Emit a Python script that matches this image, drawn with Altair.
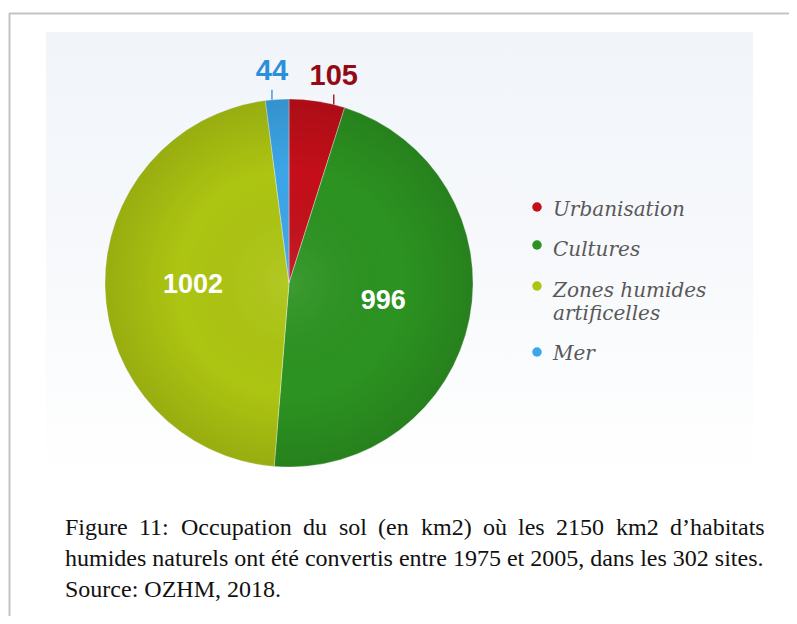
import altair as alt
import pandas as pd

# ---- data ----
categories = ["Urbanisation", "Cultures", "Zones humides artificelles", "Mer"]
values = [105, 996, 1002, 44]
legend_labels = ["Urbanisation", "Cultures", "Zones humides\nartificelles", "Mer"]

slice_colors = ["#c40f1a", "#2c9321", "#adc512", "#3ca6e8"]

caption_l1_words = ["Figure", "11:", "Occupation", "du", "sol", "(en", "km2)", "où",
                    "les", "2150", "km2", "d\u2019habitats"]
caption_l2 = "humides naturels ont été convertis entre 1975 et 2005, dans les 302 sites."
caption_l3 = "Source: OZHM, 2018."

# ---- layout (view pixels) ----
CX, CY, R = 281, 275, 184
caption_l1_x = [57, 131, 173, 295, 331, 370, 413, 475, 510, 548, 608, 662]
legend_text_y = [208, 248, 289, 352]
legend_dot_y = [199, 237, 278, 344]

df = pd.DataFrame({"cat": categories, "value": values, "idx": list(range(len(values)))})
leg = pd.DataFrame({"cat": categories, "label": legend_labels,
                    "ty": legend_text_y, "dy": legend_dot_y})
cap1 = pd.DataFrame({"word": caption_l1_words, "x": caption_l1_x})

color_scale = alt.Scale(domain=categories, range=slice_colors)
one = alt.Data(values=[{}])

# frame lines
frame_top = alt.Chart(one).mark_rule(color="#c4c4c4", strokeWidth=2).encode(
    x=alt.value(1), x2=alt.value(781), y=alt.value(5.5))
frame_left = alt.Chart(one).mark_rule(color="#c4c4c4", strokeWidth=2).encode(
    x=alt.value(1.5), y=alt.value(5), y2=alt.value(608))

# light panel behind the chart
panel = alt.Chart(one).mark_rect(
    fill=alt.LinearGradient(
        gradient="linear", x1=0, x2=0, y1=0, y2=1,
        stops=[alt.GradientStop(color="#f1f5fa", offset=0),
               alt.GradientStop(color="#f6f8fb", offset=0.45),
               alt.GradientStop(color="#ffffff", offset=1)])
).encode(x=alt.value(38), x2=alt.value(745), y=alt.value(24), y2=alt.value(472))

base = alt.Chart(df)

pie = base.mark_arc(radius=R, stroke="#ffffff", strokeWidth=0.7, strokeOpacity=0.5).encode(
    theta=alt.Theta("value:Q", stack=True),
    color=alt.Color("cat:N", scale=color_scale, legend=None),
    order=alt.Order("idx:Q"),
    x=alt.value(CX), y=alt.value(CY),
)

shade = alt.Chart(one).mark_arc(
    radius=R, theta=0, theta2=6.2832,
    fill=alt.RadialGradient(
        gradient="radial", x1=0.5, y1=0.5, r1=0, x2=0.5, y2=0.5, r2=0.5,
        stops=[alt.GradientStop(color="rgba(255,255,255,0.08)", offset=0),
               alt.GradientStop(color="rgba(0,0,0,0)", offset=0.6),
               alt.GradientStop(color="rgba(0,0,0,0.12)", offset=1)])
).encode(x=alt.value(CX), y=alt.value(CY))

inner = base.transform_calculate(
    lab="datum.value > 500 ? '' + datum.value : ''"
).mark_text(radius=96, font="Liberation Sans", fontWeight="bold", fontSize=27,
            color="#ffffff", align="center", baseline="middle").encode(
    theta=alt.Theta("value:Q", stack=True),
    order=alt.Order("idx:Q"),
    text="lab:N",
    x=alt.value(CX), y=alt.value(CY),
)

outer_base = base.transform_joinaggregate(
    total="sum(value)"
).transform_window(
    cum="sum(value)", sort=[alt.SortField("idx")], frame=[None, 0]
).transform_calculate(
    frac="datum.cat == 'Urbanisation' ? 0.8 : 0.28",
    ang="2*PI*(datum.cum - datum.value*(1-datum.frac))/datum.total",
    tx=f"{CX} + {R}*sin(datum.ang)",
    ty=f"{CY} - {R}*cos(datum.ang)",
    ty2="datum.ty - 10",
    ly="datum.ty2 - 19",
).transform_filter("datum.value < 200")

lab_color = alt.condition(alt.datum.cat == "Mer", alt.value("#2b8fd9"), alt.value("#930a14"))

ticks = outer_base.mark_rule(strokeWidth=1.3).encode(
    x=alt.X("tx:Q", scale=None), y=alt.Y("ty:Q", scale=None), y2="ty2:Q",
    color=lab_color)

outer_labels = outer_base.mark_text(font="Liberation Sans", fontWeight="bold", fontSize=29,
                                    align="center", baseline="middle").encode(
    x=alt.X("tx:Q", scale=None), y=alt.Y("ly:Q", scale=None),
    text="value:N", color=lab_color)

# legend
leg_base = alt.Chart(leg)
leg_dots = leg_base.mark_circle(size=90, opacity=1).encode(
    x=alt.value(529), y=alt.Y("dy:Q", scale=None),
    color=alt.Color("cat:N", scale=color_scale, legend=None))
leg_text = leg_base.mark_text(align="left", baseline="alphabetic", font="DejaVu Serif",
                              fontStyle="italic", fontSize=20, color="#585858",
                              lineBreak="\n", lineHeight=23).encode(
    x=alt.value(545), y=alt.Y("ty:Q", scale=None), text="label:N")

# caption
cap_style = dict(align="left", baseline="alphabetic", font="Liberation Serif",
                 fontSize=24, color="#111111")
cap_line1 = alt.Chart(cap1).mark_text(**cap_style).encode(
    x=alt.X("x:Q", scale=None), y=alt.value(527), text="word:N")
cap_line2 = alt.Chart(one).mark_text(**cap_style, text=caption_l2).encode(
    x=alt.value(57), y=alt.value(558))
cap_line3 = alt.Chart(one).mark_text(**cap_style, text=caption_l3).encode(
    x=alt.value(57), y=alt.value(589))

chart = alt.layer(
    frame_top, frame_left, panel, pie, shade, inner, ticks, outer_labels,
    leg_dots, leg_text, cap_line1, cap_line2, cap_line3
).properties(
    width=781, height=608,
    autosize=alt.AutoSizeParams(type="none"),
    padding=0, background="#ffffff",
).configure_view(stroke=None)

chart.save("out.html", embed_options={"renderer": "svg", "actions": False})
